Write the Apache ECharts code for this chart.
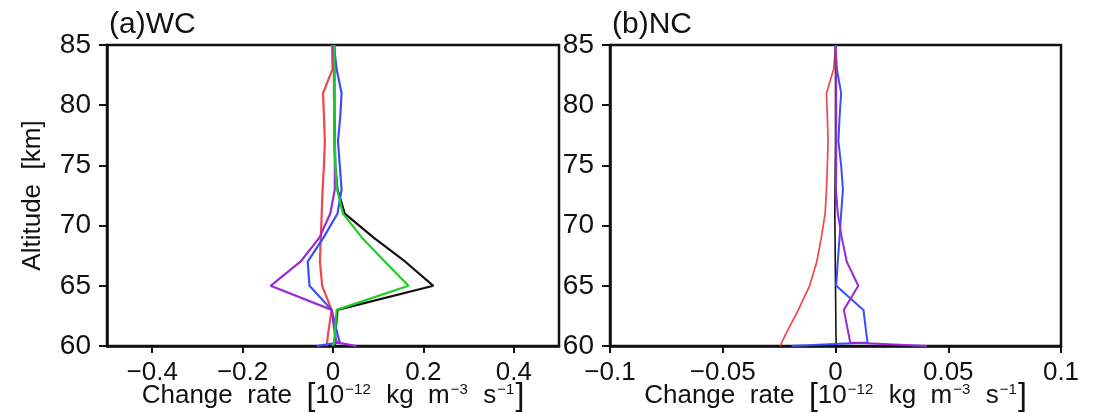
<!DOCTYPE html>
<html>
<head>
<meta charset="utf-8">
<script src="https://cdn.jsdelivr.net/npm/echarts@6/dist/echarts.min.js"></script>
<style>
  html, body { margin: 0; padding: 0; background: #fff; }
  #chart { width: 1097px; height: 413px; }
</style>
</head>
<body>
<div id="chart"></div>
<script>
// Altitude levels (km) shared by every profile
const altitude = [85, 83, 81, 79, 77, 75, 73, 71, 69, 67, 65, 63, 61, 60.3, 60];

// (a) WC change-rate profiles [1e-12 kg m-3 s-1]
const wcRed    = [-0.002, -0.001, -0.022, -0.020, -0.018, -0.020, -0.023, -0.025, -0.027, -0.029, -0.024, -0.003, -0.011, -0.013, -0.014];
const wcBlue   = [0.002, 0.008, 0.019, 0.016, 0.011, 0.015, 0.019, 0.010, -0.021, -0.056, -0.052, -0.003, 0.010, 0.015, -0.036];
const wcPurple = [0.000, 0.002, 0.002, 0.003, 0.003, 0.004, 0.004, -0.006, -0.030, -0.072, -0.138, -0.003, 0.004, 0.008, 0.052];
const wcGreen  = [0.003, 0.003, 0.003, 0.003, 0.004, 0.005, 0.009, 0.022, 0.064, 0.115, 0.167, 0.008, 0.004, 0.002, 0.000];
const wcBlack  = [0.003, 0.003, 0.003, 0.003, 0.004, 0.005, 0.010, 0.026, 0.090, 0.160, 0.222, 0.010, 0.005, 0.004, 0.003];

// (b) NC change-rate profiles
const ncRed    = [0.0000, -0.0008, -0.0040, -0.0036, -0.0033, -0.0036, -0.0040, -0.0046, -0.0063, -0.0083, -0.0115, -0.0165, -0.0220, -0.0238, -0.0246];
const ncBlue   = [0.0000, 0.0006, 0.0025, 0.0018, 0.0013, 0.0025, 0.0033, 0.0025, 0.0018, 0.0010, 0.0003, 0.0124, 0.0137, 0.0142, -0.0194];
const ncPurple = [0.0000, 0.0003, 0.0003, 0.0003, 0.0003, 0.0003, 0.0002, 0.0010, 0.0028, 0.0050, 0.0101, 0.0037, 0.0058, 0.0065, 0.0406];
const ncBlack  = [0.0000, 0.0000, 0.0000, 0.0000, 0.0000, -0.0001, -0.0002, -0.0003, -0.0002, -0.0001, 0.0000, 0.0001, 0.0002, 0.0003, 0.0003];

// Axis ticks
const xTicksA = [-0.4, -0.2, 0, 0.2, 0.4];
const xTicksB = [-0.1, -0.05, 0, 0.05, 0.1];
const yTicks  = [60, 65, 70, 75, 80, 85];

const INK = '#111';
const textFont = '"Liberation Sans", Arial, sans-serif';

function pairs(values) {
  return values.map((v, i) => [v, altitude[i]]);
}
function fmt(v) {
  return v === 0 ? '0' : String(v).replace('-', '\u2212');
}

const xName = 'Change  rate  {br|[}10{sup|\u221212}  kg  m{sup|\u22123}  s{sup|\u22121}{br|]}';
const xNameStyle = {
  fontFamily: textFont, fontSize: 26, color: INK, lineHeight: 28,
  rich: {
    br:  { fontFamily: textFont, fontSize: 32, color: INK, lineHeight: 28 },
    sup: { fontFamily: textFont, fontSize: 15, color: INK, verticalAlign: 'top', lineHeight: 28, padding: [0, 1, 12, 1] }
  }
};

function xAxis(gridIndex, min, max, ticks) {
  return {
    type: 'value', gridIndex, min, max,
    splitLine: { show: false },
    axisLine: { show: true, onZero: false, lineStyle: { color: INK, width: 2.5 } },
    axisTick: { show: true, inside: false, length: 7, customValues: ticks, lineStyle: { color: INK, width: 2 } },
    axisLabel: { customValues: ticks, formatter: fmt, margin: 14, fontFamily: textFont, fontSize: 26, color: INK },
    name: xName, nameLocation: 'middle', nameGap: 36, nameMoveOverlap: false, nameTextStyle: xNameStyle
  };
}
function yAxis(gridIndex, name) {
  return {
    type: 'value', gridIndex, min: 60, max: 85, interval: 5,
    splitLine: { show: false },
    axisLine: { show: true, onZero: false, lineStyle: { color: INK, width: 2.5 } },
    axisTick: { show: true, inside: false, length: 8, lineStyle: { color: INK, width: 2 } },
    axisLabel: { margin: 16, fontFamily: textFont, fontSize: 28, color: INK,
                 customValues: yTicks, showMinLabel: true, showMaxLabel: true },
    name: name, nameLocation: 'middle', nameGap: 61, nameRotate: 90, nameMoveOverlap: false,
    nameTextStyle: { fontFamily: textFont, fontSize: 26, color: INK }
  };
}
function line(values, color, width, xi) {
  return {
    type: 'line', xAxisIndex: xi, yAxisIndex: xi, data: pairs(values),
    symbol: 'none', silent: true, animation: false, clip: true,
    lineStyle: { color, width }
  };
}

const RED = '#f2464f', BLUE = '#3550f5', GREEN = '#22cc28', PURPLE = '#9a2ad6';

const chart = echarts.init(document.getElementById('chart'), null, { renderer: 'canvas' });
chart.setOption({
  animation: false,
  backgroundColor: '#fff',
  title: [
    { text: '(a)WC', left: 104, top: 5, textStyle: { fontFamily: textFont, fontSize: 30, fontWeight: 'normal', color: INK } },
    { text: '(b)NC', left: 607, top: 5, textStyle: { fontFamily: textFont, fontSize: 30, fontWeight: 'normal', color: INK } }
  ],
  grid: [
    { left: 107, top: 45, width: 452, height: 301, outerBoundsMode: 'none', containLabel: false,
      show: true, borderColor: INK, borderWidth: 2.5, backgroundColor: 'transparent' },
    { left: 610, top: 45, width: 451, height: 301, outerBoundsMode: 'none', containLabel: false,
      show: true, borderColor: INK, borderWidth: 2.5, backgroundColor: 'transparent' }
  ],
  xAxis: [ xAxis(0, -0.5, 0.5, xTicksA), xAxis(1, -0.1, 0.1, xTicksB) ],
  yAxis: [ yAxis(0, 'Altitude  [km]'), yAxis(1, '') ],
  series: [
    line(wcBlack, INK, 2.2, 0),
    line(wcRed, RED, 2.2, 0),
    line(wcBlue, BLUE, 2.2, 0),
    line(wcPurple, PURPLE, 2.2, 0),
    line(wcGreen, GREEN, 2.2, 0),
    line(ncRed, RED, 1.7, 1),
    line(ncBlack, INK, 1.6, 1),
    line(ncBlue, BLUE, 2, 1),
    line(ncPurple, PURPLE, 2, 1)
  ]
});
</script>
</body>
</html>
